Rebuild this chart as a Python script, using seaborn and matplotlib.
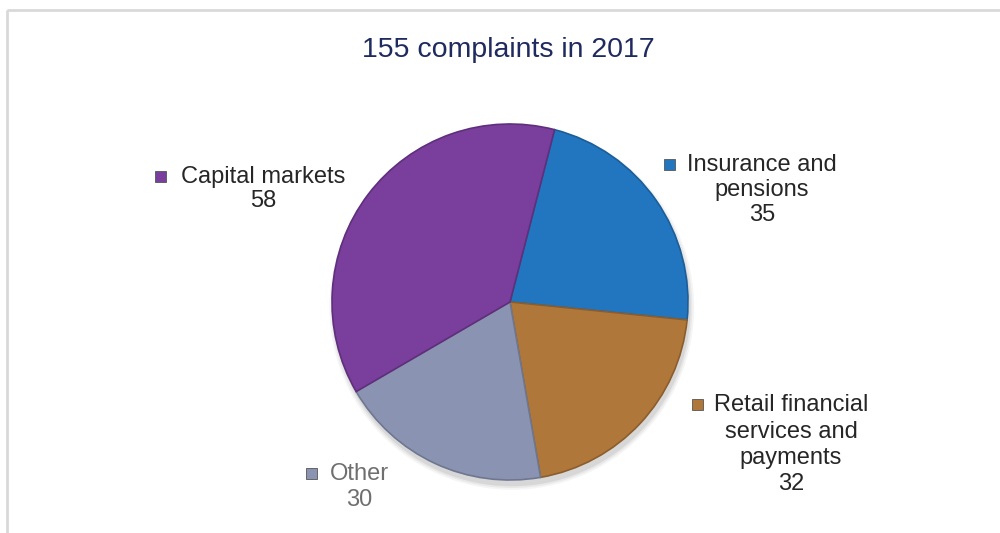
import matplotlib
matplotlib.use("Agg")
import matplotlib.pyplot as plt
import seaborn as sns
from matplotlib.patches import Rectangle, Circle

# ---- data ----
title = "155 complaints in 2017"
categories = ["Insurance and pensions", "Retail financial services and payments", "Other", "Capital markets"]
label_lines = [["Insurance and", "pensions"], ["Retail financial", "services and", "payments"], ["Other"], ["Capital markets"]]
values = [35, 32, 30, 58]
colors = ["#2276BF", "#B0773A", "#8A94B2", "#7A3E9D"]
edge_colors = ["#1B5E99", "#8C5D2C", "#6E7790", "#5F2F7C"]
text_colors = ["#262626", "#262626", "#6F6F6F", "#262626"]

sns.set_theme(style="white")
plt.rcParams["font.family"] = ["Liberation Sans", "DejaVu Sans"]

W, H = 1000, 533
fig = plt.figure(figsize=(W / 100, H / 100), dpi=100)
fig.patch.set_facecolor("white")

# pie axes
cx, cy, r = 510, 302, 178
ax = fig.add_axes([(cx - r) / W, (H - cy - r) / H, 2 * r / W, 2 * r / H])
# soft shadow (bottom-right)
for rad, a in [(1.025, 0.04), (1.015, 0.05), (1.005, 0.07)]:
    ax.add_patch(Circle((0.01, -0.03), rad, facecolor="black", edgecolor="none",
                        alpha=a, zorder=0, clip_on=False))
wedges, _ = ax.pie(values, colors=colors, startangle=75.5, counterclock=False,
                   wedgeprops=dict(linewidth=1.2, zorder=2), radius=1.0)
for w, ec in zip(wedges, edge_colors):
    w.set_edgecolor(ec)
ax.set_xlim(-1.0, 1.0)
ax.set_ylim(-1.0, 1.0)
ax.set_aspect("equal")
ax.axis("off")

# overlay axes in pixel coords for labels
ov = fig.add_axes([0, 0, 1, 1], zorder=5)
ov.set_xlim(0, W)
ov.set_ylim(H, 0)
ov.axis("off")
ov.patch.set_alpha(0)

# frame
ov.add_patch(Rectangle((7, 10), 1100, 600, fill=False, edgecolor="#D9D9D9", linewidth=2))

ov.text(508, 50, title, ha="center", va="center", fontsize=20.5, color="#1F2A5F")

# label layout: (text center x, first line y, line spacing, key x)
layout = [
    (762, 165, 25, 669),
    (791, 405, 26.5, 697),
    (359, 474, 26, 311),
    (263, 177, 24, 160),
]
for lines, val, col, tcol, (tx, ty, dy, kx) in zip(label_lines, values, colors, text_colors, layout):
    allines = lines + [str(val)]
    for i, ln in enumerate(allines):
        ov.text(tx, ty + i * dy, ln, ha="center", va="center", fontsize=17, color=tcol)
    ov.add_patch(Rectangle((kx - 5.5, ty - 6), 11, 11, facecolor=col, edgecolor="#555555", linewidth=0.6))

fig.savefig("out.png", dpi=100)
